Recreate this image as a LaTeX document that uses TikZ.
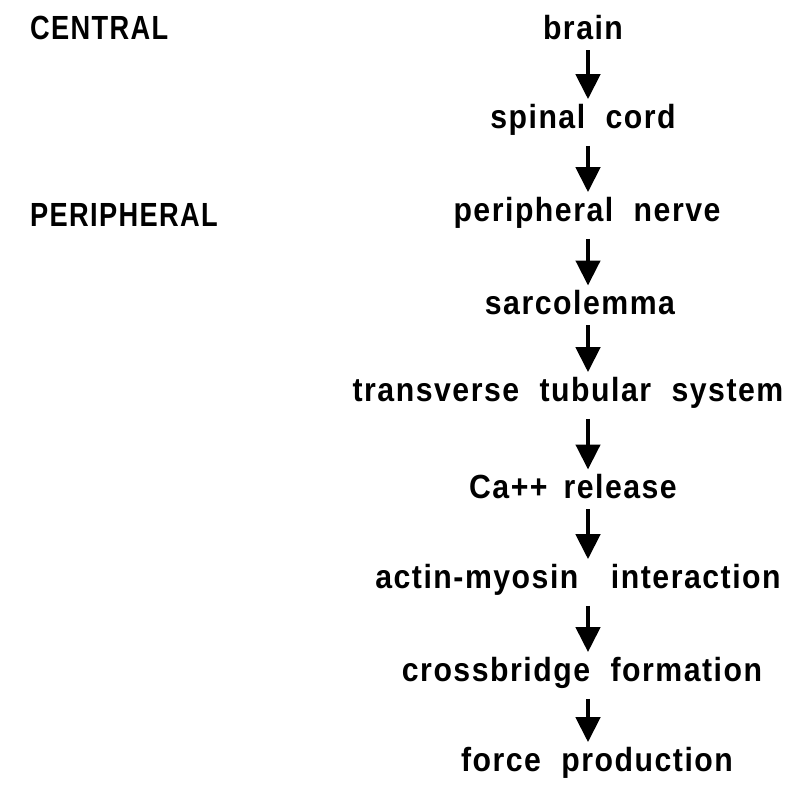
\documentclass[tikz,border=0pt]{standalone}
\usepackage{fontspec}
\usepackage{graphicx}
\setmainfont{Liberation Sans}[LetterSpace=5,WordSpace=1.6]
\usetikzlibrary{arrows.meta}
\newcommand{\tallt}[1]{\scalebox{1.12}[1.24]{#1}}
\begin{document}
\begin{tikzpicture}[x=1pt,y=-1pt,
  lab/.style={font=\fontsize{27}{30}\selectfont\bfseries, inner sep=0pt, text=black},
  side/.style={lab, anchor=west},
  flow/.style={line width=4.5pt, -{Triangle[width=24pt,length=25pt]}, shorten <=10pt, shorten >=5pt}]
\useasboundingbox (0,0) rectangle (794,800);
\coordinate (axis) at (588,0);
\node[side] (central) at (30,28) {\scalebox{0.9}[1]{\tallt{CENTRAL}}};
\node[side] (periph) at (30,215) {\scalebox{0.9}[1]{\tallt{PERIPHERAL}}};
\node[lab] (brain) at (583,28) {\tallt{brain}};
\node[lab] (spinal) at (583,120) {\tallt{spinal\hspace{0.15em} cord}};
\node[lab] (nerve) at (587,213) {\tallt{peripheral\hspace{0.15em} nerve}};
\node[lab] (sarco) at (580,303) {\tallt{sarcolemma}};
\node[lab] (ttub) at (568,393) {\tallt{transverse\hspace{0.15em} tubular\hspace{0.15em} system}};
\node[lab] (ca) at (573,487) {\tallt{Ca++ release}};
\node[lab] (actin) at (578,580) {\tallt{actin-myosin\hspace{0.55em} interaction}};
\node[lab] (cross) at (582,673) {\tallt{crossbridge\hspace{0.15em} formation}};
\node[lab] (force) at (597,763) {\tallt{force\hspace{0.15em} production}};
\draw[flow] (brain.south -| axis) -- (spinal.north -| axis);
\draw[flow] (spinal.south -| axis) -- (nerve.north -| axis);
\draw[flow] (nerve.south -| axis) -- (sarco.north -| axis);
\draw[flow] (sarco.south -| axis) -- (ttub.north -| axis);
\draw[flow] (ttub.south -| axis) -- (ca.north -| axis);
\draw[flow] (ca.south -| axis) -- (actin.north -| axis);
\draw[flow] (actin.south -| axis) -- (cross.north -| axis);
\draw[flow] (cross.south -| axis) -- (force.north -| axis);
\end{tikzpicture}
\end{document}
